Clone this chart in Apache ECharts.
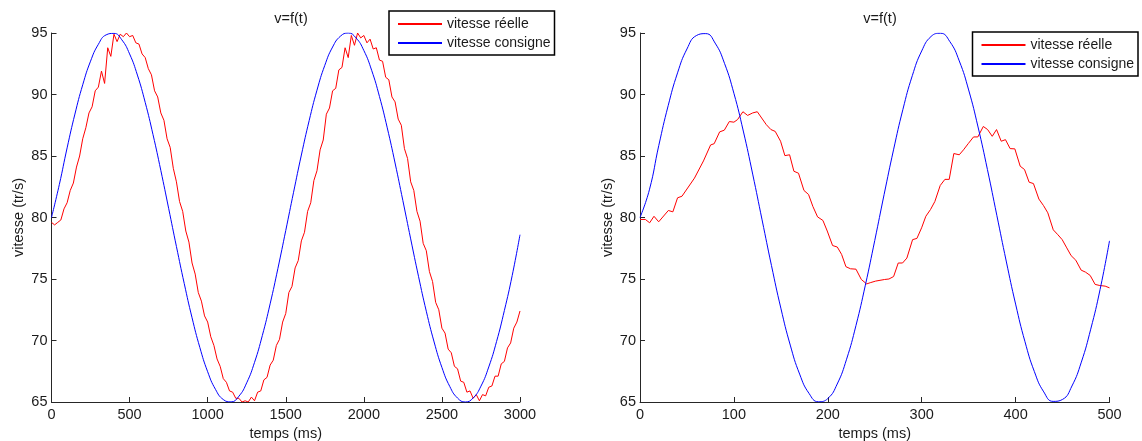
<!DOCTYPE html>
<html>
<head>
<meta charset="utf-8">
<script src="https://cdn.jsdelivr.net/npm/echarts@6/dist/echarts.min.js"></script>
<style>
html,body{margin:0;padding:0;background:#fff;}
#chart{width:1142px;height:441px;}
</style>
</head>
<body>
<div id="chart"></div>
<script>
// ---------- data ----------
const titleText = 'v=f(t)';
const xName = 'temps (ms)';
const yName = 'vitesse (tr/s)';
const nameReal = 'vitesse réelle';
const nameSet = 'vitesse consigne';

// Left plot (0..3000 ms)
const leftStepReal = 20; // sampling of the read values (ms)
const leftReal = [
79.6,79.4,79.6,79.8,80.7,81.2,82.2,82.8,84.1,85.0,
86.4,87.3,88.5,89.0,90.3,90.6,91.9,90.9,93.8,93.1,
94.9,94.3,94.9,94.7,95.0,94.7,94.8,94.2,94.1,93.3,
93.0,92.1,91.6,90.3,89.8,88.5,87.9,86.4,85.7,84.0,
82.9,81.3,80.5,78.9,78.0,76.3,75.4,73.9,73.2,72.0,
71.5,70.3,69.6,68.5,67.9,66.9,66.6,65.9,65.8,65.3,
65.3,65.0,65.1,65.0,65.4,65.1,65.8,65.9,66.8,67.0,
68.0,68.4,69.6,70.1,71.5,72.2,73.9,74.4,75.9,76.5,
78.1,78.8,80.5,81.2,83.0,83.8,85.5,86.3,88.4,88.9,
90.3,90.5,92.0,92.2,93.8,93.0,94.8,94.0,95.0,94.6,
94.8,94.2,94.5,93.7,93.8,92.8,92.7,91.4,91.2,89.8,
89.4,88.0,87.5,85.6,84.8,82.9,82.2,80.5,79.7,77.9,
77.3,75.6,74.8,73.1,72.5,71.0,70.6,69.3,69.0,67.9,
67.7,66.7,66.6,65.8,65.9,65.3,65.6,65.1,65.6,65.5,
66.2,66.3,67.1,67.1,68.1,68.3,69.4,69.8,71.0,71.5,
72.4
];
const leftStepSet = 50;
const leftSet = [
80.0,82.67,85.66,88.41,90.79,92.71,94.08,94.85,94.97,94.45,
93.30,91.58,89.36,86.74,83.83,80.75,77.64,74.63,71.85,69.43,
67.46,66.03,65.20,65.01,65.47,66.56,68.22,70.40,72.98,75.87,
78.94,82.05,85.08,87.88,90.35,92.37,93.86,94.74,95.00,94.60,
93.58,91.97,89.84,87.29,84.43,81.37,78.26,75.22,72.38,69.88,
67.81,66.27,65.32,65.00,65.33,66.29,67.85,69.92,72.44,75.28,
78.6
];

// Right plot (0..500 ms)
const rightRealT = [
0,5.7,10.3,14.9,19.9,30.2,35,40,44.7,58,67.6,75.2,79,84.8,89.8,95.1,100,103.9,109.6,114.6,
120,124.9,134.5,139.4,144,149.7,154.3,159.3,163.9,168.8,174.6,179.5,184.1,189.1,194.8,199.4,205.1,210.1,214.7,219.3,
224.2,230,235.7,241.4,245.2,251,260.5,265.1,270.1,275,279.6,284.2,290.3,294.9,299.9,304.4,309.4,314,319.7,324.7,
329.3,334.2,340,344.5,349.5,355.2,359.8,365.6,370.2,375.1,379.7,384.7,389.2,394.2,399.2,404.9,409.5,414.4,419,424.8,
429.7,434.3,440.1,445,449.6,454.5,459.1,464.1,469.8,474.4,479.4,484.7,489.7,495.4,500
];
const rightRealV = [
79.84,79.84,79.57,80.1,79.65,80.57,80.46,81.6,81.73,83.2,84.6,85.9,86.0,86.96,87.1,87.8,87.75,87.96,88.6,88.3,
88.5,88.6,87.55,87.15,87.0,86.2,85.03,85.1,83.76,83.6,82.2,81.87,80.9,80.05,79.76,78.9,77.72,77.6,77.0,76.0,
75.83,75.8,74.96,74.6,74.7,74.83,74.96,75.0,75.2,76.3,76.3,76.7,78.2,78.3,79.16,80.1,80.65,81.3,82.6,83.1,
83.1,85.2,85.1,85.5,86.0,86.55,86.55,87.4,87.15,86.6,87.15,86.2,86.33,85.6,85.58,84.17,83.9,82.87,82.76,81.5,
80.97,80.38,79.0,78.6,78.2,77.53,76.9,76.53,75.72,75.56,75.29,74.56,74.47,74.42,74.28
];
const rightStepSet = 10;
const rightSet = [
80.0,82.25,85.85,89.09,91.76,93.70,94.79,94.95,94.18,92.53,
90.10,87.03,83.53,79.81,76.10,72.63,69.63,67.27,65.70,65.02,
65.28,66.46,68.48,71.22,74.50,78.13,81.88,85.50,88.79,91.53,
93.54,94.72,94.98,94.30,92.73,90.37,87.36,83.90,80.18,76.46,
72.96,69.90,67.47,65.82,65.05,65.21,66.30,68.24,70.92,74.16,
78.1
];

const leftX = {min:0, max:3000, interval:500};
const rightX = {min:0, max:500, interval:100};
const yRange = {min:65, max:95, interval:5};

// ---------- build ----------
const pairsStep = (arr, step) => arr.map((v,i)=>[i*step, v]);
const pairsXY = (xs, ys) => xs.map((x,i)=>[x, ys[i]]);

const FONT = 'Liberation Sans, Arial, Helvetica, sans-serif';
const TXT = '#1a1a1a';
const AX = '#262626';
const FS = 14.5;

function xAxis(gi, r){
  return {type:'value', gridIndex:gi, min:r.min, max:r.max, interval:r.interval,
    name:xName, nameLocation:'middle', nameGap:23,
    nameTextStyle:{fontFamily:FONT, fontSize:FS, color:TXT},
    axisLine:{show:true, lineStyle:{color:AX, width:1}},
    axisTick:{show:true, inside:true, length:5, lineStyle:{color:AX}},
    axisLabel:{fontFamily:FONT, fontSize:FS, color:TXT, margin:5, formatter:v=>String(v)},
    splitLine:{show:false}};
}
function yAxis(gi){
  return {type:'value', gridIndex:gi, min:yRange.min, max:yRange.max, interval:yRange.interval,
    name:yName, nameLocation:'middle', nameGap:25,
    nameTextStyle:{fontFamily:FONT, fontSize:FS, color:TXT},
    axisLine:{show:true, lineStyle:{color:AX, width:1}},
    axisTick:{show:true, inside:true, length:5, lineStyle:{color:AX}},
    axisLabel:{fontFamily:FONT, fontSize:FS, color:TXT, margin:4, formatter:v=>String(v)},
    splitLine:{show:false}};
}
function line(name, data, color, gi, smooth){
  return {type:'line', name:name, xAxisIndex:gi, yAxisIndex:gi, data:data,
    symbol:'none', showSymbol:false, smooth:smooth, clip:true,
    lineStyle:{color:color, width:1}, itemStyle:{color:color}, animation:false};
}
function legend(pos){
  return Object.assign({orient:'vertical', data:[nameReal, nameSet],
    itemWidth:44, itemHeight:14, itemGap:5,
    padding:[6,4,5,8], borderColor:'#000', borderWidth:1.5,
    backgroundColor:'#fff', selectedMode:false,
    itemStyle:{opacity:0},
    textStyle:{fontFamily:FONT, fontSize:14, color:TXT}}, pos);
}

const chart = echarts.init(document.getElementById('chart'), null, {renderer:'canvas'});
chart.setOption({
  animation:false,
  backgroundColor:'#fff',
  title:[
    {text:titleText, left:286, top:6, textAlign:'center', textStyle:{fontFamily:FONT, fontSize:FS, fontWeight:'normal', color:TXT}},
    {text:titleText, left:875, top:6, textAlign:'center', textStyle:{fontFamily:FONT, fontSize:FS, fontWeight:'normal', color:TXT}}
  ],
  grid:[
    {left:51.5, top:33, width:468.5, height:369, containLabel:false, outerBoundsMode:'none'},
    {left:640, top:33, width:469.5, height:369, containLabel:false, outerBoundsMode:'none'}
  ],
  xAxis:[xAxis(0,leftX), xAxis(1,rightX)],
  yAxis:[yAxis(0), yAxis(1)],
  legend:[legend({left:389, top:11}), legend({right:4, top:32})],
  series:[
    line(nameReal, pairsStep(leftReal, leftStepReal), '#ff0000', 0, false),
    line(nameSet, pairsStep(leftSet, leftStepSet), '#0000ff', 0, true),
    line(nameReal, pairsXY(rightRealT, rightRealV), '#ff0000', 1, false),
    line(nameSet, pairsStep(rightSet, rightStepSet), '#0000ff', 1, true)
  ]
});
</script>
</body>
</html>
